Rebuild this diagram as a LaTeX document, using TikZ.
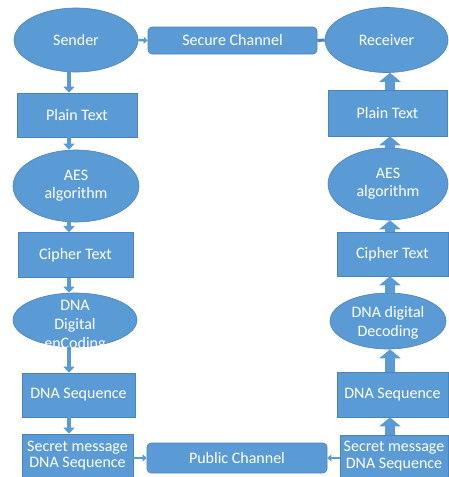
\documentclass[tikz,border=0pt]{standalone}
\usepackage{fontspec}
\setmainfont{Carlito}
\usetikzlibrary{shapes.geometric,arrows.meta,calc}
\definecolor{bfill}{HTML}{5B9BD5}
\definecolor{bline}{HTML}{4A84BD}
\begin{document}
\begin{tikzpicture}[x=1pt,y=-1pt,
  txt/.style={text=white,font=\fontsize{16}{18}\selectfont,align=center,inner sep=0pt},
  ell/.style={ellipse,fill=bfill,draw=bline,line width=0.6pt,inner sep=0pt},
  box/.style={rectangle,fill=bfill,draw=bline,line width=0.6pt,inner sep=0pt,txt},
  rbox/.style={box,rounded corners=4pt},
  darr/.style={bfill,line width=4pt,-{Triangle[width=11pt,length=6pt]}},
  uarr/.style={bfill,line width=10pt,-{Triangle[width=21pt,length=9pt]}},
  harr/.style={bfill,line width=2.5pt,-{Triangle[width=7pt,length=4pt]}},
  hline/.style={bline,line width=3pt}]
\useasboundingbox (0,0) rectangle (449,477);
\coordinate (lx) at (69,0);
\coordinate (rx) at (390,0);
% left column
\node[ell,minimum width=124pt,minimum height=64pt,label={[txt]center:Sender}] (snd) at (76,40) {};
\node[box,minimum width=120pt,minimum height=44pt] (lpt) at (77,115) {Plain Text};
\node[ell,minimum width=126pt,minimum height=72pt,label={[txt]center:{AES\\algorithm}}] (laes) at (76,186) {};
\node[box,minimum width=115pt,minimum height=45pt] (lct) at (75.5,255) {Cipher Text};
\node[ell,minimum width=124pt,minimum height=54pt,label={[txt,yshift=-6pt,font=\fontsize{16}{19}\selectfont]center:{DNA\\Digital\\enCoding}}] (lenc) at (75,320) {};
\node[box,minimum width=113pt,minimum height=44pt] (lseq) at (78.5,395) {DNA Sequence};
\node[box,minimum width=111pt,minimum height=43pt,font=\fontsize{16}{16.5}\selectfont] (lsm) at (77.5,455.5) {Secret message\\DNA Sequence};
% channels
\node[rbox,minimum width=169pt,minimum height=27pt] (sec) at (232.5,40.5) {Secure Channel};
\node[rbox,minimum width=180pt,minimum height=30pt] (pub) at (237,458) {Public Channel};
% right column
\node[ell,minimum width=123pt,minimum height=65pt,label={[txt]center:Receiver}] (rcv) at (386.5,40) {};
\node[box,minimum width=119pt,minimum height=46pt] (rpt) at (387.5,113) {Plain Text};
\node[ell,minimum width=120pt,minimum height=72pt,label={[txt]center:{AES\\algorithm}}] (raes) at (388,184) {};
\node[box,minimum width=111pt,minimum height=44pt] (rct) at (392.5,254) {Cipher Text};
\node[ell,minimum width=116pt,minimum height=56pt,label={[txt,yshift=-2pt,font=\fontsize{16}{19}\selectfont]center:{DNA digital\\Decoding}}] (rdec) at (388,321) {};
\node[box,minimum width=111pt,minimum height=45pt] (rseq) at (392.5,394.5) {DNA Sequence};
\node[box,minimum width=108pt,minimum height=42pt,font=\fontsize{16}{17.5}\selectfont] (rsm) at (394,456) {Secret message\\DNA Sequence};
% left arrows (down)
\draw[darr] (snd.south -| lx) -- (lpt.north -| lx);
\draw[darr] (lpt.south -| lx) -- (laes.north -| lx);
\draw[darr] (laes.south -| lx) -- (lct.north -| lx);
\draw[darr] (lct.south -| lx) -- (lenc.north -| lx);
\draw[darr] (lenc.south -| lx) -- (lseq.north -| lx);
\draw[darr] (lseq.south -| lx) -- (lsm.north -| lx);
% right arrows (up)
\draw[uarr] (rsm.north -| rx) -- (rseq.south -| rx);
\draw[uarr] (rseq.north -| rx) -- (rdec.south -| rx);
\draw[uarr] (rdec.north -| rx) -- (rct.south -| rx);
\draw[uarr] (rct.north -| rx) -- (raes.south -| rx);
\draw[uarr] (raes.north -| rx) -- (rpt.south -| rx);
\draw[uarr] (rpt.north -| rx) -- (rcv.south -| rx);
% horizontal connectors
\draw[harr] (snd.east) -- (sec.west);
\draw[hline] (sec.east) -- (rcv.west);
\draw[harr] (lsm.east |- pub.west) -- (pub.west);
\draw[harr] (rsm.west |- pub.east) -- (pub.east);
\end{tikzpicture}
\end{document}
